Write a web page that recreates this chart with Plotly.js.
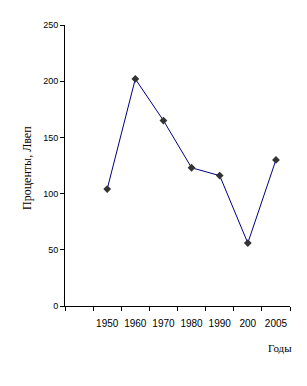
<!DOCTYPE html>
<html>
<head>
<meta charset="utf-8">
<script src="https://cdn.plot.ly/plotly-3.0.1.min.js"></script>
<style>html,body{margin:0;padding:0;background:#fff;}#chart{width:307px;height:386px;}</style>
</head>
<body>
<div id="chart"></div>
<script>
var categories = [" ", "1950", "1960", "1970", "1980", "1990", "200", "2005"];
var years = ["1950", "1960", "1970", "1980", "1990", "200", "2005"];
var values = [104, 202, 165, 123, 116, 56, 130];
var yTicks = [0, 50, 100, 150, 200, 250];

var trace = {
  x: years,
  y: values,
  type: 'scatter',
  mode: 'lines+markers',
  line: {color: '#000080', width: 1},
  marker: {symbol: 'diamond', size: 6, color: '#333333'},
  hoverinfo: 'none'
};

var layout = {
  width: 307, height: 386,
  margin: {l: 65, r: 17, t: 25, b: 80},
  paper_bgcolor: '#ffffff', plot_bgcolor: '#ffffff',
  showlegend: false,
  font: {family: 'Arial, Liberation Sans, sans-serif', size: 10, color: '#000'},
  xaxis: {
    type: 'category',
    categoryorder: 'array',
    categoryarray: categories,
    range: [-0.5, 7.5],
    tickson: 'boundaries',
    tickangle: 0,
    ticklabelstandoff: 8,
    ticks: 'outside', ticklen: 4, tickcolor: '#000', tickwidth: 1,
    showline: true, linecolor: '#000', linewidth: 1,
    showgrid: false, zeroline: false,
    tickfont: {family: 'Liberation Sans, Arial, sans-serif', size: 10, color: '#000'},
    fixedrange: true
  },
  yaxis: {
    range: [0, 250],
    tickvals: yTicks,
    ticktext: yTicks.map(String),
    ticks: 'outside', ticklen: 4, tickcolor: '#000', tickwidth: 1,
    showline: true, linecolor: '#000', linewidth: 1,
    showgrid: false, zeroline: false,
    tickfont: {family: 'Liberation Sans, Arial, sans-serif', size: 9, color: '#000'},
    fixedrange: true
  },
  annotations: [
    {text: 'Проценты, Лвеп', xref: 'paper', yref: 'paper', x: -0.169, y: 0.491,
     xanchor: 'center', yanchor: 'middle', textangle: -90, showarrow: false,
     font: {family: 'Liberation Serif, Times New Roman, serif', size: 12, color: '#000'}},
    {text: 'Годы', xref: 'paper', yref: 'paper', x: 0.956, y: -0.149,
     xanchor: 'center', yanchor: 'middle', showarrow: false,
     font: {family: 'Liberation Serif, Times New Roman, serif', size: 11, color: '#000'}}
  ]
};

Plotly.newPlot('chart', [trace], layout, {displayModeBar: false, staticPlot: true});
</script>
</body>
</html>
